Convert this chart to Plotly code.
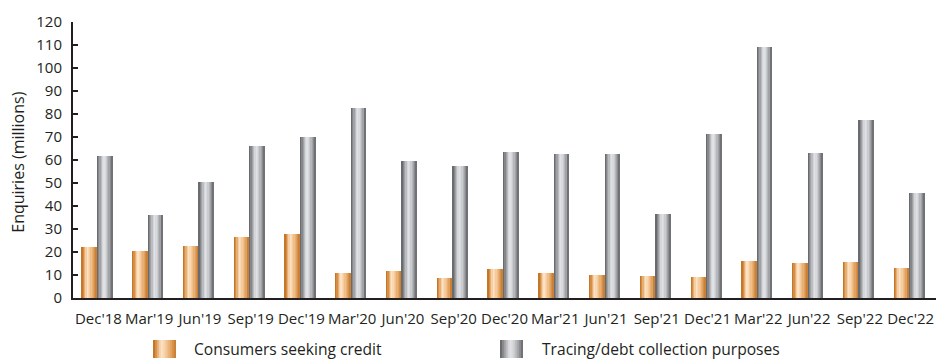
import plotly.graph_objects as go

# Quarterly enquiry volumes (millions)
quarters = ["Dec'18", "Mar'19", "Jun'19", "Sep'19", "Dec'19", "Mar'20", "Jun'20",
            "Sep'20", "Dec'20", "Mar'21", "Jun'21", "Sep'21", "Dec'21", "Mar'22",
            "Jun'22", "Sep'22", "Dec'22"]
consumers_seeking_credit = [22.2, 20.5, 22.7, 26.6, 28.0, 11.0, 11.9, 8.8, 12.8,
                            11.0, 10.1, 9.7, 9.1, 16.1, 15.2, 15.7, 13.1]
tracing_debt_collection = [61.8, 36.1, 50.5, 66.2, 69.8, 82.4, 59.4, 57.6, 63.3,
                           62.4, 62.8, 36.7, 71.4, 109.3, 63.2, 77.5, 45.7]
y_tick_values = list(range(0, 121, 10))
series_names = ["Consumers seeking credit", "Tracing/debt collection purposes"]

# Horizontal colour gradients used to shade the bars (position, hex colour)
ORANGE_STOPS = [(0.0, "#bd6b17"), (0.12, "#d48c42"), (0.35, "#fde4c8"),
                (0.5, "#f9d3a8"), (0.78, "#e2a463"), (1.0, "#c4782a")]
GREY_STOPS = [(0.0, "#5c5d61"), (0.15, "#8e8f93"), (0.42, "#e3e4e7"),
              (0.58, "#d5d6d9"), (0.82, "#9b9ca0"), (1.0, "#646569")]

TEXT = "#231f20"
FONT = "Open Sans"
N_SLICES = 12
BAR_W = 0.305      # width of one bar in category units
SHIFT = -0.03      # small leftward shift of each pair of bars

W, H = 936, 360
ML, MR, MT, MB = 73, 0, 22, 62
PW, PH = W - ML - MR, H - MT - MB


def _hex(c):
    return tuple(int(c[i:i + 2], 16) for i in (1, 3, 5))


def gradient_color(stops, t):
    for (p0, c0), (p1, c1) in zip(stops, stops[1:]):
        if p0 <= t <= p1:
            f = (t - p0) / (p1 - p0) if p1 > p0 else 0
            a, b = _hex(c0), _hex(c1)
            r, g, bl = (round(a[i] + (b[i] - a[i]) * f) for i in range(3))
            return f"rgb({r},{g},{bl})"
    return stops[-1][1]


fig = go.Figure()

# Each bar is built from overlaid slices: slice k runs from its own left edge
# to the bar's right edge, so later slices paint over earlier ones.
for values, start, stops in [(consumers_seeking_credit, -BAR_W + SHIFT, ORANGE_STOPS),
                             (tracing_debt_collection, SHIFT, GREY_STOPS)]:
    for k in range(N_SLICES):
        left = start + BAR_W * k / N_SLICES
        fig.add_bar(
            x=quarters, y=values,
            width=BAR_W * (N_SLICES - k) / N_SLICES,
            offset=left,
            marker=dict(color=gradient_color(stops, (k + 0.5) / N_SLICES),
                        line=dict(width=0)),
            showlegend=False, hoverinfo="skip",
        )


def px_x(px):
    return (px - ML) / PW


def px_y(py):
    return (H - MB - py) / PH


# Legend: gradient swatches drawn as shapes, labels as annotations
shapes = []
annotations = []
for name, sw_left, text_left, stops in [
        (series_names[0], 153, 192, ORANGE_STOPS),
        (series_names[1], 500, 540, GREY_STOPS)]:
    sw_w = 23
    for k in range(N_SLICES):
        shapes.append(dict(
            type="rect", xref="paper", yref="paper",
            x0=px_x(sw_left + sw_w * k / N_SLICES), x1=px_x(sw_left + sw_w),
            y0=px_y(358), y1=px_y(340),
            fillcolor=gradient_color(stops, (k + 0.5) / N_SLICES),
            line=dict(width=0), layer="above",
        ))
    annotations.append(dict(
        text=name, xref="paper", yref="paper",
        x=px_x(text_left), y=px_y(349), xanchor="left", yanchor="middle",
        showarrow=False, font=dict(family=FONT, size=15.6, color=TEXT),
    ))

annotations.append(dict(
    text="Enquiries (millions)", xref="paper", yref="paper",
    x=px_x(18), y=0.49, xanchor="center", yanchor="middle", textangle=-90,
    showarrow=False, font=dict(family=FONT, size=16, color=TEXT),
))

fig.update_layout(
    width=W, height=H,
    margin=dict(l=ML, r=MR, t=MT, b=MB, pad=0),
    paper_bgcolor="white", plot_bgcolor="white",
    barmode="overlay", bargap=0,
    showlegend=False,
    shapes=shapes, annotations=annotations,
    font=dict(family=FONT, size=15, color=TEXT),
    xaxis=dict(
        type="category", range=[-0.5, len(quarters) - 0.5],
        showline=True, linecolor=TEXT, linewidth=2,
        ticks="", showgrid=False, zeroline=False,
        tickfont=dict(family=FONT, size=15, color=TEXT),
        ticklabelstandoff=6,
    ),
    yaxis=dict(
        range=[0, 120], tickvals=y_tick_values,
        showline=True, linecolor=TEXT, linewidth=2,
        ticks="inside", ticklen=5, tickwidth=2, tickcolor=TEXT,
        showgrid=False, zeroline=False,
        tickfont=dict(family=FONT, size=15, color=TEXT),
        ticklabelstandoff=6,
    ),
)

fig.write_html("out.html")
